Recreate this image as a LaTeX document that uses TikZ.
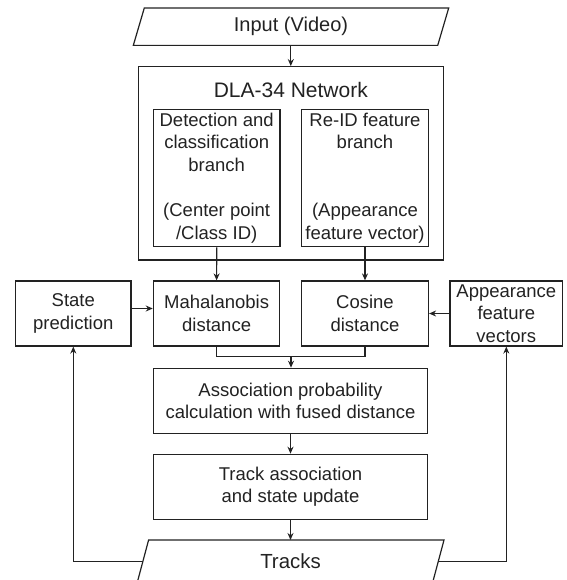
\documentclass[tikz,border=0pt]{standalone}
\usepackage{fontspec}
\setmainfont{Liberation Sans}
\usetikzlibrary{arrows.meta,calc}
\definecolor{ink}{HTML}{222222}
\tikzset{
  box/.style={draw=ink, line width=1.2pt, inner sep=2pt, align=center, text=ink,
    font=\fontsize{18.5}{22.6}\selectfont},
  lbl/.style={inner sep=0pt, align=center, text=ink},
  conn/.style={draw=ink, line width=1.2pt},
  arr/.style={conn, -{Stealth[length=7pt,width=6pt]}},
}
\begin{document}
\begin{tikzpicture}[x=1pt,y=-1pt]
\useasboundingbox (0,0) rectangle (566,580);
% input parallelogram
\node[lbl, minimum width=304pt, minimum height=37pt, font=\fontsize{20}{24}\selectfont] (in) at (291,26.7) {Input (Video)};
\draw[conn] ([xshift=5.5pt]in.north west) -- ([xshift=5.5pt]in.north east) -- ([xshift=-5.5pt]in.south east) -- ([xshift=-5.5pt]in.south west) -- cycle;
% DLA network
\node[box, minimum width=305pt, minimum height=193.3pt] (dla) at (290.8,163.3) {};
\node[lbl, font=\fontsize{21}{25}\selectfont] (dlat) at (290.8,90) {DLA-34 Network};
\node[box, minimum width=126.7pt, minimum height=137.4pt] (det) at (216.7,178) {Detection and\\classification\\branch\\~\\(Center point\\/Class ID)};
\node[box, minimum width=126.7pt, minimum height=137.4pt] (reid) at (365,178) {Re-ID feature\\branch\\~\\~\\(Appearance\\feature vector)};
% row
\node[box, minimum width=115.3pt, minimum height=65pt] (state) at (73.3,313.5) {State\\prediction};
\node[box, minimum width=126.5pt, minimum height=65pt] (maha) at (216.6,313.5) {Mahalanobis\\distance};
\node[box, minimum width=127pt, minimum height=65pt] (cos) at (365,313.5) {Cosine\\distance};
\node[box, minimum width=112.7pt, minimum height=65pt] (app) at (506.3,313.5) {Appearance\\feature\\vectors};
% lower boxes
\node[box, minimum width=274.4pt, minimum height=65pt] (assoc) at (290.5,400.8) {Association probability\\calculation with fused distance};
\node[box, minimum width=274.4pt, minimum height=65pt] (track) at (290.5,486.8) {Track association\\and state update};
% tracks parallelogram
\node[lbl, minimum width=295pt, minimum height=43pt, font=\fontsize{20.4}{24}\selectfont] (tracks) at (290.5,561.7) {Tracks};
\draw[conn] ([xshift=5.8pt]tracks.north west) -- ([xshift=5.8pt]tracks.north east) -- ([xshift=-5.8pt]tracks.south east) -- ([xshift=-5.8pt]tracks.south west) -- cycle;
\coordinate (j) at (291,356.7);
% connectors
\draw[arr] (in.south -| dla.north) -- (dla.north);
\draw[arr] (det.south) -- (maha.north);
\draw[arr] (reid.south) -- (cos.north);
\draw[arr] ([yshift=5pt]state.east) -- ([yshift=5pt]state.east -| maha.west);
\draw[arr] (app.west) -- (cos.east);
\draw[conn] (maha.south) -- (maha.south |- j) -- (cos.south |- j) -- (cos.south);
\draw[arr] (j) -- (j |- assoc.north);
\draw[arr] (assoc.south) -- (track.north);
\draw[arr] (track.south) -- (track.south |- tracks.north);
\draw[arr] (tracks.west) -- (tracks.west -| state.south) -- (state.south);
\draw[arr] (tracks.east) -- (tracks.east -| app.south) -- (app.south);
\end{tikzpicture}
\end{document}
